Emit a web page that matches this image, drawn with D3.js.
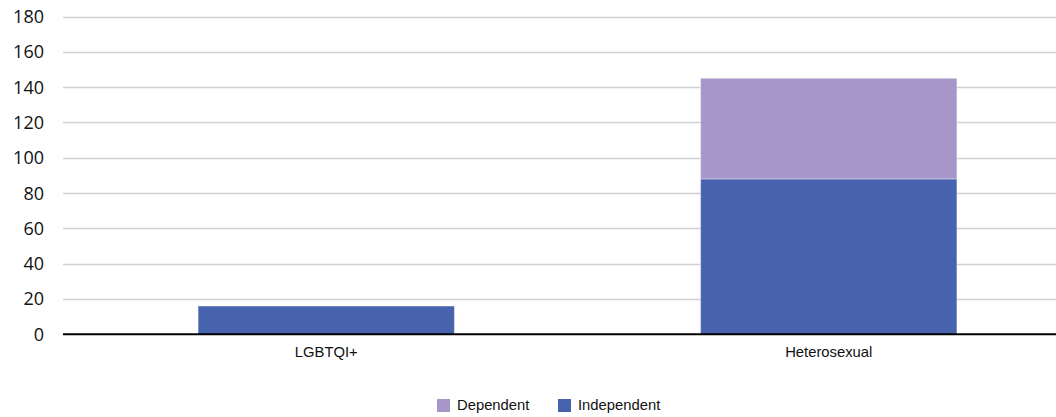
<!DOCTYPE html>
<html><head><meta charset="utf-8">
<script src="https://cdn.jsdelivr.net/npm/d3@7"></script>
<style>body{margin:0;background:#fff}svg{display:block}</style>
</head><body>
<svg id="c" width="1056" height="417"></svg>
<script>
const categories = ["LGBTQI+", "Heterosexual"];
const independent = [16, 88];
const dependent = [0, 57];
const yTicks = [0, 20, 40, 60, 80, 100, 120, 140, 160, 180];
const seriesNames = ["Dependent", "Independent"];
const colors = {Independent: "#4863ae", Dependent: "#a797c9"};

const svg = d3.select("#c");
const mLeft = 63, mRight = 1056, mTop = 16.5, mBottom = 334.3;
const y = d3.scaleLinear().domain([0, 180]).range([mBottom, mTop]);
const x = d3.scaleBand().domain(categories).range([75, 1080]).paddingInner(0.49).paddingOuter(0.245);

// gridlines
svg.append("g").selectAll("line").data(yTicks.filter(d => d > 0)).join("line")
  .attr("x1", mLeft).attr("x2", mRight)
  .attr("y1", d => Math.round(y(d)) + 0.5).attr("y2", d => Math.round(y(d)) + 0.5)
  .attr("stroke", "#d0d0d0").attr("stroke-width", 1.5);

// y labels
svg.append("g").selectAll("text").data(yTicks).join("text")
  .attr("x", 44).attr("y", d => y(d)).attr("dy", "0.36em")
  .attr("text-anchor", "end")
  .attr("font-family", "'Open Sans', 'Noto Sans', sans-serif")
  .attr("font-size", 18).attr("fill", "#111")
  .text(d => d);

const data = categories.map((c, i) => ({cat: c, Independent: independent[i], Dependent: dependent[i]}));
const stack = d3.stack().keys(["Independent", "Dependent"])(data);

svg.append("g").selectAll("g").data(stack).join("g")
  .attr("fill", d => colors[d.key])
  .selectAll("rect").data(d => d.filter(p => p[1] > p[0])).join("rect")
  .attr("x", d => x(d.data.cat))
  .attr("width", x.bandwidth())
  .attr("y", d => y(d[1]))
  .attr("height", d => y(d[0]) - y(d[1]))
  .attr("stroke", "rgba(255,255,255,0.35)").attr("stroke-width", 1);

// baseline
svg.append("line").attr("x1", mLeft).attr("x2", mRight)
  .attr("y1", mBottom).attr("y2", mBottom)
  .attr("stroke", "#000").attr("stroke-width", 2);

// category labels
svg.append("g").selectAll("text").data(categories).join("text")
  .attr("x", d => x(d) + x.bandwidth() / 2).attr("y", 357)
  .attr("text-anchor", "middle")
  .attr("font-family", "'Liberation Sans', Arial, sans-serif")
  .attr("font-size", 14.8).attr("fill", "#111")
  .text(d => d);

// legend
const legendX = [437, 558];
const lg = svg.append("g").selectAll("g").data(seriesNames).join("g")
  .attr("transform", (d, i) => `translate(${legendX[i]},399)`);
lg.append("rect").attr("width", 13).attr("height", 13).attr("fill", d => colors[d]);
lg.append("text").attr("x", 20).attr("y", 10.5)
  .attr("font-family", "'Liberation Sans', Arial, sans-serif")
  .attr("font-size", 14.8).attr("fill", "#111")
  .text(d => d);
</script>
</body></html>
